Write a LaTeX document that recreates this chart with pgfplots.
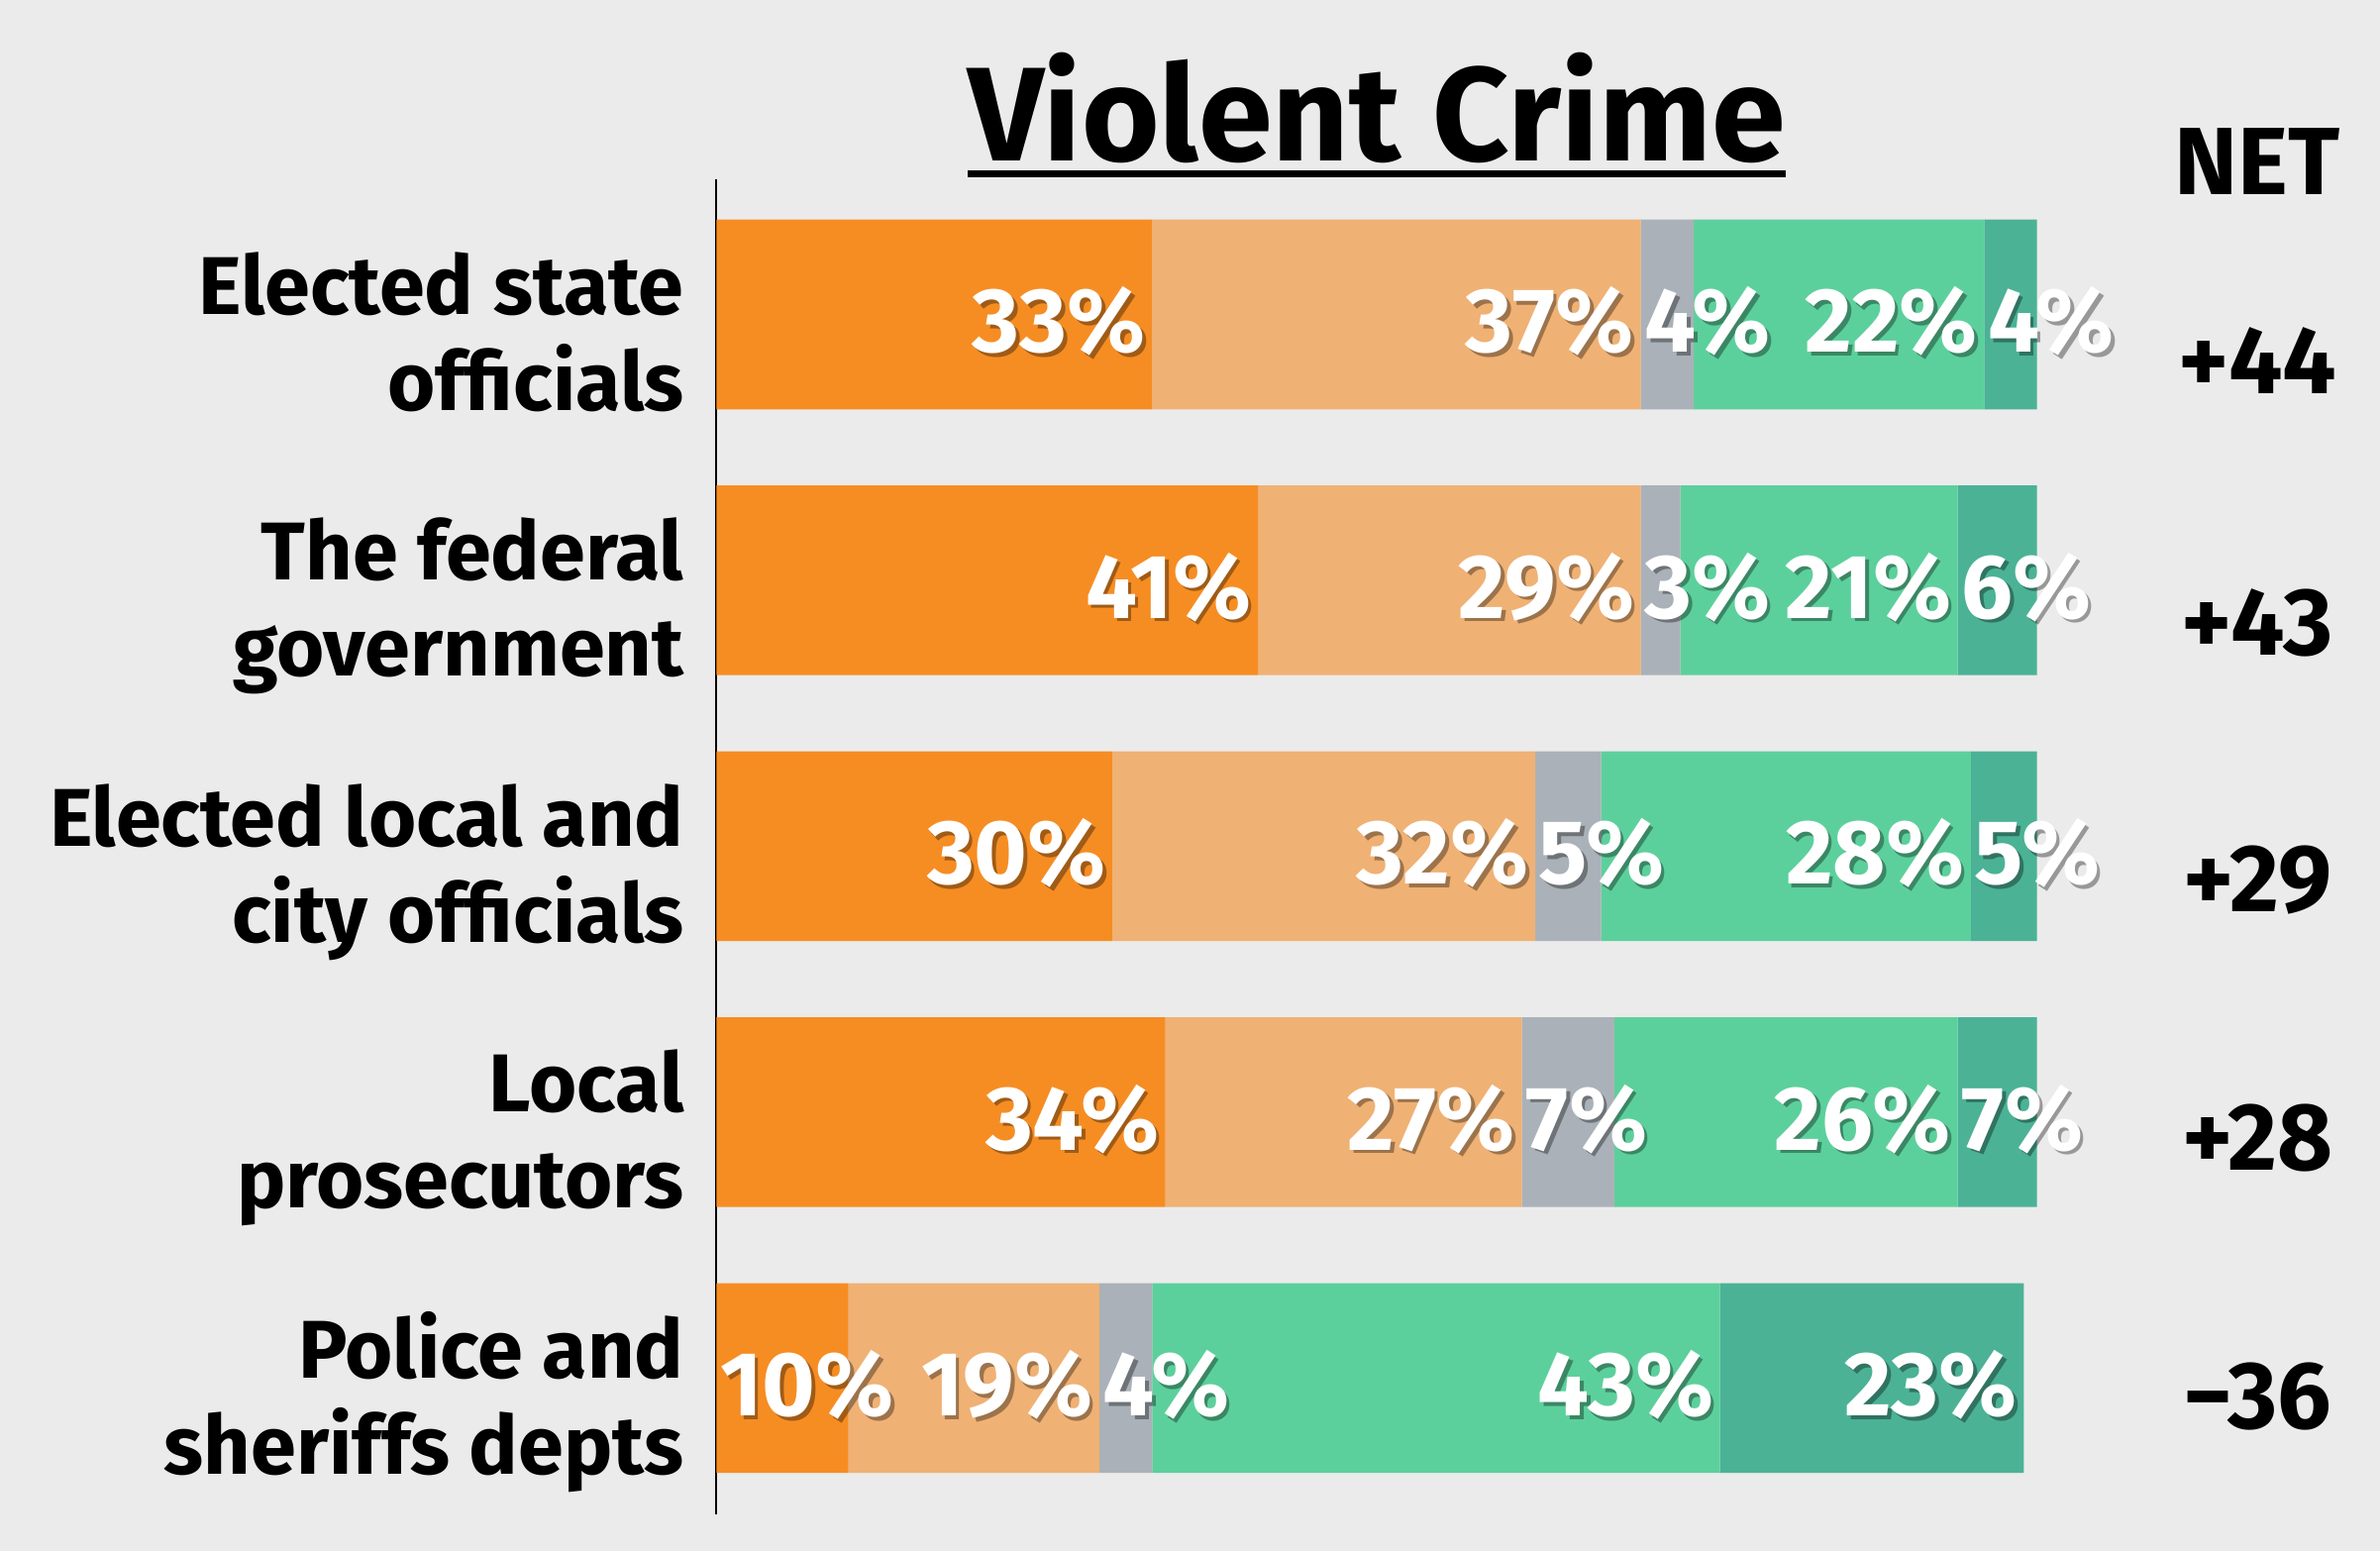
\documentclass[border=0pt]{standalone}
\usepackage{fontspec}
\setmainfont{Fira Sans}
\usepackage{pgfplots}
\usepackage{pgfplotstable}
\pgfplotsset{compat=1.18}

\definecolor{bgc}{HTML}{EBEBEB}
\definecolor{c1}{HTML}{F68D23}
\definecolor{c2}{HTML}{F0B174}
\definecolor{c3}{HTML}{AAB1B8}
\definecolor{c4}{HTML}{5CD09C}
\definecolor{c5}{HTML}{4BB296}

% labels that sit at the right end of their segment
\pgfplotstableread{
x   y  lab
33  4  33
70  4  37
96  4  22
41  3  41
70  3  29
94  3  21
30  2  30
62  2  32
95  2  28
34  1  34
61  1  27
94  1  26
29  0  19
76  0  43
99  0  23
}\eastlab
% labels too wide for their segment: start at its left end
\pgfplotstableread{
x   y  lab
70  4  4
96  4  4
70  3  3
94  3  6
62  2  5
95  2  5
61  1  7
94  1  7
0   0  10
29  0  4
}\westlab
% NET column
\pgfplotstableread{
x      y       lab
116.7  3.703   +44
116.7  2.720   +43
116.7  1.754   +29
116.7  0.783   +28
116.7  -0.189  −36
116.7  4.451   NET
}\netlab

\newcommand\ultitle[1]{\setbox0\hbox{#1}\leavevmode\vtop{\box0\kern2.5pt\hrule height 2pt}}

\begin{document}
\begin{tikzpicture}
\path[use as bounding box, fill=bgc] (0,0) rectangle (784pt,511pt);
\pgfplotsset{geom/.style={
    at={(236pt,12pt)}, anchor=south west,
    scale only axis, width=435pt, height=440pt,
    xmin=0, xmax=100, ymin=-0.514, ymax=4.509,
}}
\begin{axis}[
    geom,
    xbar stacked, bar width=62.5pt,
    axis x line=none, axis y line*=left,
    y axis line style={line width=0.7pt, black},
    ytick={0,...,4}, major tick length=0pt,
    yticklabels={{Police and\\sheriffs depts},{Local\\prosecutors},{Elected local and\\city officials},{The federal\\government},{Elected state\\officials}},
    yticklabel style={anchor=base east, align=right, inner sep=0pt, xshift=-10.5pt, yshift=-31.5pt,
        font=\bfseries\fontsize{27}{31.5}\selectfont},
    title={\ultitle{Violent Crime}},
    title style={at={(0.5,1)}, anchor=base, yshift=0pt, inner sep=0pt,
        font=\bfseries\fontsize{44}{46}\selectfont},
]
\addplot[fill=c1, draw=none] coordinates {(10,0) (34,1) (30,2) (41,3) (33,4)};
\addplot[fill=c2, draw=none] coordinates {(19,0) (27,1) (32,2) (29,3) (37,4)};
\addplot[fill=c3, draw=none] coordinates {(4,0) (7,1) (5,2) (3,3) (4,4)};
\addplot[fill=c4, draw=none] coordinates {(43,0) (26,1) (28,2) (21,3) (22,4)};
\addplot[fill=c5, draw=none] coordinates {(23,0) (7,1) (5,2) (6,3) (4,4)};
\end{axis}
\begin{axis}[geom, hide axis, clip=false,
    pctlab/.style={draw=none, mark=none, nodes near coords={\pgfplotspointmeta\%},
        point meta=explicit symbolic},
    every node near coord/.append style={inner sep=0pt, font=\bfseries\fontsize{30}{32}\selectfont},
]
% shadows
\addplot[pctlab, every node near coord/.append style={anchor=base east, xshift=-0.8pt, yshift=-13.7pt, text=black, opacity=0.35}]
    table[x=x, y=y, meta=lab] {\eastlab};
\addplot[pctlab, every node near coord/.append style={anchor=base west, xshift=2.2pt, yshift=-13.7pt, text=black, opacity=0.35}]
    table[x=x, y=y, meta=lab] {\westlab};
% white labels
\addplot[pctlab, every node near coord/.append style={anchor=base east, xshift=-2pt, yshift=-12.5pt, text=white}]
    table[x=x, y=y, meta=lab] {\eastlab};
\addplot[pctlab, every node near coord/.append style={anchor=base west, xshift=1pt, yshift=-12.5pt, text=white}]
    table[x=x, y=y, meta=lab] {\westlab};
% NET column
\addplot[draw=none, mark=none, nodes near coords, point meta=explicit symbolic,
    every node near coord/.append style={anchor=base, text=black, font=\bfseries\fontsize{31.5}{33}\selectfont}]
    table[x=x, y=y, meta=lab] {\netlab};
\end{axis}
\end{tikzpicture}
\end{document}
